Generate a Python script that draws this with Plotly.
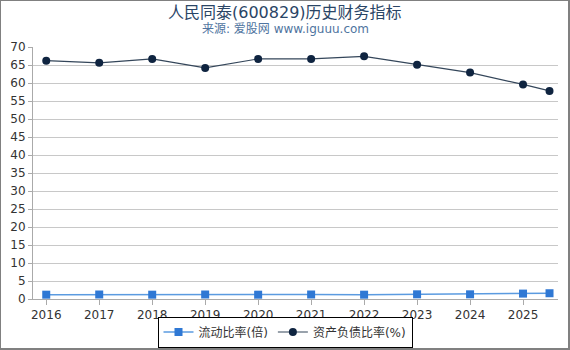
import plotly.graph_objects as go

years = [2016, 2017, 2018, 2019, 2020, 2021, 2022, 2023, 2024, 2025, 2025.5]
current_ratio = [1.2, 1.25, 1.2, 1.25, 1.2, 1.25, 1.2, 1.3, 1.3, 1.5, 1.6]
debt_ratio = [66.2, 65.6, 66.7, 64.2, 66.7, 66.7, 67.4, 65.1, 62.9, 59.6, 57.8]
tick_years = [2016, 2017, 2018, 2019, 2020, 2021, 2022, 2023, 2024, 2025]
title_text = "人民同泰(600829)历史财务指标"
subtitle_text = "来源: 爱股网 www.iguuu.com"

W, H = 570, 350
ML, MR, MT, MB = 33, 12, 47, 51
PW, PH = W - ML - MR, H - MT - MB

def px(p):
    return (p - ML) / PW

def py(p):
    return (H - MB - p) / PH

font_family = "DejaVu Sans, Noto Sans CJK SC, sans-serif"

fig = go.Figure()
fig.add_trace(go.Scatter(
    x=years, y=current_ratio, name="流动比率(倍)", mode="lines+markers",
    line=dict(color="#5b9be0", width=1.5),
    marker=dict(symbol="square", size=8, color="#2f78d4"),
))
fig.add_trace(go.Scatter(
    x=years, y=debt_ratio, name="资产负债比率(%)", mode="lines+markers",
    line=dict(color="#34465a", width=1.2),
    marker=dict(symbol="circle", size=8, color="#0f2440"),
))

fig.update_layout(
    width=W, height=H,
    margin=dict(l=ML, r=MR, t=MT, b=MB, autoexpand=False),
    paper_bgcolor="white", plot_bgcolor="white",
    font=dict(family=font_family, size=12, color="#333333"),
    showlegend=True,
    legend=dict(
        orientation="h", x=px(285), xanchor="center", y=py(347.5), yanchor="bottom",
        bordercolor="#000000", borderwidth=1, font=dict(size=12, color="#333333"),
        itemwidth=30, tracegroupgap=0,
    ),
    xaxis=dict(
        range=[2015.75, 2025.66], tickmode="array", tickvals=tick_years,
        ticktext=[str(t) for t in tick_years],
        showgrid=False, zeroline=False, showline=True, linecolor="#aaaaaa",
        ticks="outside", ticklen=5, tickcolor="#aaaaaa",
        tickfont=dict(size=12, color="#333333"),
    ),
    yaxis=dict(
        range=[0, 70], dtick=5, showgrid=True, gridcolor="#c8c8c8", gridwidth=1,
        zeroline=False, showline=True, linecolor="#aaaaaa",
        ticks="outside", ticklen=4, tickcolor="#aaaaaa",
        tickfont=dict(size=12, color="#333333"),
    ),
    annotations=[
        dict(text=title_text, x=px(285), xref="paper", xanchor="center",
             y=py(12), yref="paper", yanchor="middle", showarrow=False,
             font=dict(size=16, color="#2a4566", family=font_family)),
        dict(text=subtitle_text, x=px(285), xref="paper", xanchor="center",
             y=py(29), yref="paper", yanchor="middle", showarrow=False,
             font=dict(size=12, color="#4f74a0", family=font_family)),
    ],
    shapes=[
        dict(type="rect", xref="paper", yref="paper",
             x0=px(0), x1=px(569), y0=py(349), y1=py(0),
             line=dict(color="#808080", width=2), layer="above"),
    ],
)

fig.write_html("out.html")
